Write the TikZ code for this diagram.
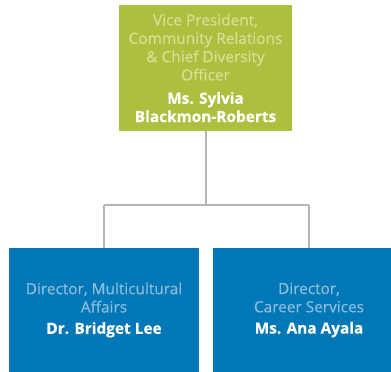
\documentclass[tikz,border=0pt]{standalone}
\usepackage{fontspec}
\setmainfont{Open Sans}
\newfontfamily\titlefont{Open Sans}[FakeBold=0.6]
\usetikzlibrary{positioning}
\definecolor{vpgreen}{HTML}{AEBF3F}
\definecolor{dirblue}{HTML}{0077B6}
\definecolor{greentext}{HTML}{D8E096}
\definecolor{bluetext}{HTML}{8DBCDC}
\definecolor{linegray}{HTML}{B5B5B5}
\newcommand{\who}[1]{\textbf{\textcolor{white}{#1}}}

\begin{document}
\begin{tikzpicture}[x=1pt,y=1pt,
    box/.style={inner sep=0pt, align=center, font=\titlefont\fontsize{15.4}{18.3}\selectfont},
    vp/.style={box, fill=vpgreen, text=greentext, minimum width=173pt, minimum height=126pt},
    dir/.style={box, fill=dirblue, text=bluetext, minimum height=124pt},
    link/.style={draw=linegray, line width=2pt}]
    \useasboundingbox (0,0) rectangle (391,372);

    \node[vp] (vp) at (205.5,304) {Vice President,\\ Community Relations\\ \& Chief Diversity\\ Officer\\[5pt] \who{Ms. Sylvia}\\ \who{Blackmon-Roberts}};

    \node[dir, minimum width=190pt] (ma) at (104,62) {Director, Multicultural\\ Affairs\\[3pt] \who{Dr. Bridget Lee}};
    \node[dir, minimum width=192pt] (cs) at (309,62) {Director,\\ Career Services\\[3pt] \who{Ms. Ana Ayala}};

    \coordinate (split) at (205.5,166.5);
    \draw[link] (vp.south) -- (split);
    \draw[link] (split -| ma.north) -- (split -| cs.north);
    \draw[link] (split -| ma.north) -- (ma.north);
    \draw[link] (split -| cs.north) -- (cs.north);
\end{tikzpicture}
\end{document}
